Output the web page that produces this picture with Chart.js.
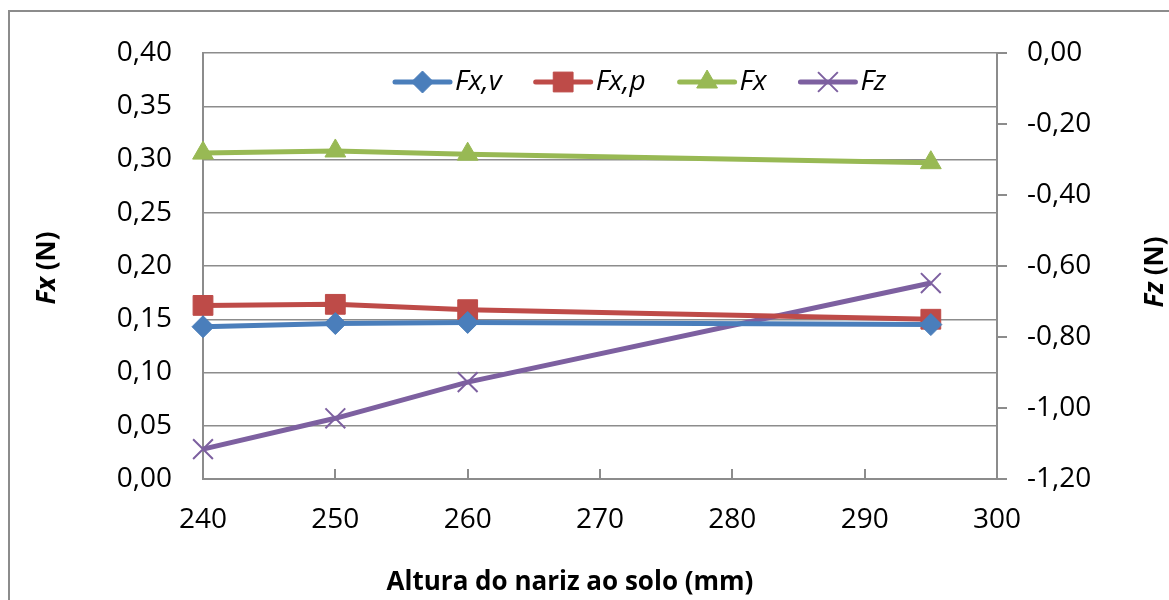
<!DOCTYPE html>
<html lang="pt">
<head>
<meta charset="UTF-8">
<title>Fx e Fz vs altura do nariz</title>
<script src="https://cdn.jsdelivr.net/npm/chart.js"></script>
<style>
  body { margin: 0; background: #fff; }
  #wrap { width: 1169px; height: 600px; position: relative; }
</style>
</head>
<body>
<div id="wrap"><canvas id="grafico"></canvas></div>
<script>
// dados
const alturas = [240, 250, 260, 295];
const fxv = [0.143, 0.146, 0.147, 0.145];
const fxp = [0.163, 0.164, 0.159, 0.150];
const fxTotal = [0.306, 0.308, 0.305, 0.297];
const fz = [-1.116, -1.029, -0.927, -0.648];

const rotulos = ['Fx,v', 'Fx,p', 'Fx', 'Fz'];
const tituloX = 'Altura do nariz ao solo (mm)';

const cinza = '#8c8c8c';
const fonte = '"Open Sans"';

function virgula(v) { return v.toFixed(2).replace('.', ','); }
function pontos(ys) { return alturas.map((x, i) => ({ x: x, y: ys[i] })); }

function serie(label, ys, cor, estilo, raio, eixo, bw) {
  return {
    label: label, data: pontos(ys), yAxisID: eixo,
    borderColor: cor, backgroundColor: cor,
    pointBorderColor: cor, pointBackgroundColor: cor,
    borderWidth: 5, tension: 0, clip: false,
    pointStyle: estilo, pointRadius: raio, pointHoverRadius: raio,
    pointBorderWidth: bw || 1
  };
}

// moldura cinzenta à volta do gráfico
const moldura = {
  id: 'moldura',
  beforeDraw(chart) {
    const ctx = chart.ctx;
    ctx.save();
    ctx.fillStyle = '#fff';
    ctx.fillRect(0, 0, chart.width, chart.height);
    ctx.strokeStyle = cinza;
    ctx.lineWidth = 2;
    ctx.strokeRect(9, 11, chart.width + 20, chart.height + 20);
    ctx.restore();
  },
  // marcas do eixo x viradas para dentro
  beforeDatasetsDraw(chart) {
    const ctx = chart.ctx, xs = chart.scales.x, b = chart.chartArea.bottom;
    ctx.save();
    ctx.strokeStyle = cinza;
    ctx.lineWidth = 2;
    xs.ticks.forEach(t => {
      const px = Math.round(xs.getPixelForValue(t.value));
      ctx.beginPath(); ctx.moveTo(px, b); ctx.lineTo(px, b - 10); ctx.stroke();
    });
    ctx.restore();
  }
};

// títulos dos eixos com Fx / Fz em itálico
function tituloRodado(ctx, cx, cy, a, b) {
  ctx.save();
  ctx.translate(cx, cy);
  ctx.rotate(-Math.PI / 2);
  ctx.font = 'italic bold 26px ' + fonte;
  const w1 = ctx.measureText(a).width;
  ctx.font = 'bold 26px ' + fonte;
  const w2 = ctx.measureText(b).width;
  let x = -(w1 + w2) / 2;
  ctx.textBaseline = 'middle';
  ctx.fillStyle = '#000';
  ctx.font = 'italic bold 26px ' + fonte;
  ctx.fillText(a, x, 0);
  ctx.font = 'bold 26px ' + fonte;
  ctx.fillText(b, x + w1, 0);
  ctx.restore();
}

const titulos = {
  id: 'titulos',
  afterDraw(chart) {
    const ctx = chart.ctx;
    tituloRodado(ctx, 48, 268, 'Fx', ' (N)');
    tituloRodado(ctx, 1156, 272, 'Fz', ' (N)');
    ctx.save();
    ctx.font = 'bold 26px ' + fonte;
    ctx.fillStyle = '#000';
    ctx.textAlign = 'center';
    ctx.textBaseline = 'middle';
    ctx.fillText(tituloX, 570, 583);
    ctx.restore();
  }
};

// legenda dentro da área do gráfico, linha + marcador
const legenda = {
  id: 'legenda',
  afterDraw(chart) {
    const ctx = chart.ctx;
    let x = 395;
    const y = 82;
    ctx.save();
    chart.data.datasets.forEach(ds => {
      ctx.strokeStyle = ds.borderColor;
      ctx.fillStyle = ds.backgroundColor;
      ctx.lineWidth = 5;
      ctx.lineCap = 'round';
      ctx.beginPath(); ctx.moveTo(x, y); ctx.lineTo(x + 55, y); ctx.stroke();
      ctx.lineCap = 'butt';
      if (Chart.helpers && Chart.helpers.drawPoint) {
        ctx.lineWidth = ds.pointBorderWidth;
        Chart.helpers.drawPoint(ctx, {
          pointStyle: ds.pointStyle, radius: ds.pointRadius,
          borderWidth: ds.pointBorderWidth, rotation: 0
        }, x + 27.5, y);
      }
      ctx.font = 'italic 28px ' + fonte;
      ctx.fillStyle = '#000';
      ctx.textBaseline = 'middle';
      ctx.fillText(ds.label, x + 60, y);
      x += 60 + ctx.measureText(ds.label).width + 34;
    });
    ctx.restore();
  }
};

Chart.defaults.font.family = fonte;
Chart.defaults.font.size = 28;
Chart.defaults.color = '#000';

new Chart(document.getElementById('grafico'), {
  type: 'line',
  data: {
    datasets: [
      serie(rotulos[0], fxv, '#4a7ebb', 'rectRot', 11, 'y'),
      serie(rotulos[1], fxp, '#be4b48', 'rect', 14, 'y'),
      serie(rotulos[2], fxTotal, '#98b954', 'triangle', 12, 'y'),
      serie(rotulos[3], fz, '#7d60a0', 'crossRot', 14, 'y2', 2)
    ]
  },
  options: {
    responsive: true,
    maintainAspectRatio: false,
    animation: false,
    layout: { padding: { top: 53, left: 0, right: 0, bottom: 0 } },
    plugins: { legend: { display: false }, tooltip: { enabled: false } },
    scales: {
      x: {
        type: 'linear', min: 240, max: 300,
        ticks: { stepSize: 10, padding: 24, maxRotation: 0 },
        grid: { drawOnChartArea: false, drawTicks: false },
        border: { color: cinza, width: 2 },
        afterFit(s) { s.height = 121; }
      },
      y: {
        position: 'left', min: 0, max: 0.4,
        ticks: { stepSize: 0.05, padding: 31, callback: v => virgula(v) },
        grid: { color: cinza, lineWidth: 1.5, drawTicks: false },
        border: { color: cinza, width: 2 },
        afterFit(s) { s.width = 203; }
      },
      y2: {
        position: 'right', min: -1.2, max: 0,
        ticks: { stepSize: 0.2, padding: 20, callback: v => virgula(v) },
        grid: { drawOnChartArea: false, drawTicks: true, tickLength: 10, color: cinza, lineWidth: 2 },
        border: { color: cinza, width: 2 },
        afterFit(s) { s.width = 172; }
      }
    }
  },
  plugins: [moldura, titulos, legenda]
});
</script>
</body>
</html>
